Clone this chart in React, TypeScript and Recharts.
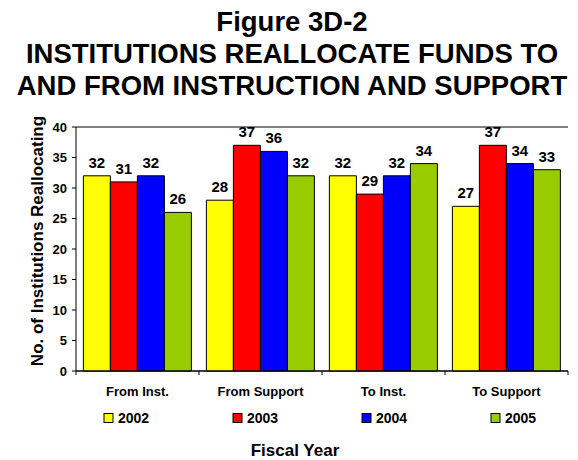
import React from 'react';
import { BarChart, Bar, XAxis, YAxis, CartesianGrid, LabelList } from 'recharts';

const categories = ['From Inst.', 'From Support', 'To Inst.', 'To Support'];
const years = ['2002', '2003', '2004', '2005'];
const values2002 = [32, 28, 32, 27];
const values2003 = [31, 37, 29, 37];
const values2004 = [32, 36, 32, 34];
const values2005 = [26, 32, 34, 33];
const yTicks = [0, 5, 10, 15, 20, 25, 30, 35, 40];

const colors = ['#FFFF00', '#FF0000', '#0000FF', '#99CC00'];
const seriesValues = [values2002, values2003, values2004, values2005];

const data = categories.map((name, i) => {
  const row: Record<string, string | number> = { name };
  years.forEach((y, s) => {
    row[y] = seriesValues[s][i];
  });
  return row;
});

const font = "'Liberation Sans', Arial, sans-serif";

// tick with the marks on the category boundaries, like the excel original
const CategoryTick = (props: any) => {
  const { x, y, payload, index, visibleTicksCount } = props;
  const half = payload && payload.offset ? payload.offset : 61.5;
  const isLast = index === (visibleTicksCount ?? categories.length) - 1;
  return (
    <g>
      <line x1={x - half} x2={x - half} y1={y - 4} y2={y} stroke="#000" />
      {isLast && <line x1={x + half} x2={x + half} y1={y - 4} y2={y} stroke="#000" />}
      <text x={x} y={y + 21} textAnchor="middle" fontSize={13} fontWeight="bold" fontFamily={font} fill="#000">
        {payload.value}
      </text>
    </g>
  );
};

export default function App() {
  return (
    <div style={{ position: 'absolute', left: 0, top: 0, width: 578, height: 460, background: '#fff', fontFamily: font }}>
      <BarChart
        width={578}
        height={460}
        data={data}
        margin={{ top: 127, right: 10, left: 0, bottom: 0 }}
        barGap={0}
        barCategoryGap="6%"
      >
        <CartesianGrid vertical={false} stroke="#000" strokeOpacity={1} />
        <XAxis
          dataKey="name"
          height={89}
          axisLine={{ stroke: '#000' }}
          tickLine={false}
          tickSize={4}
          tickMargin={0}
          tick={<CategoryTick />}
          interval={0}
        />
        <YAxis
          yAxisId="left"
          width={76}
          domain={[0, 40]}
          ticks={yTicks}
          interval={0}
          axisLine={{ stroke: '#000' }}
          tickLine={{ stroke: '#000' }}
          tickSize={4}
          tickMargin={5}
          tick={{ fontSize: 13, fontWeight: 'bold', fill: '#000', fontFamily: font }}
        />
        <YAxis
          yAxisId="right"
          orientation="right"
          width={0}
          domain={[0, 40]}
          tick={false}
          tickLine={false}
          axisLine={{ stroke: '#808080' }}
        />
        {years.map((y, s) => (
          <Bar key={y} yAxisId="left" dataKey={y} fill={colors[s]} stroke="#000" strokeWidth={1} isAnimationActive={false}>
            <LabelList
              dataKey={y}
              position="top"
              offset={8}
              fill="#000"
              fontSize={15}
              fontWeight="bold"
              fontFamily={font}
            />
          </Bar>
        ))}
      </BarChart>
      <svg width={578} height={460} style={{ position: 'absolute', left: 0, top: 0, pointerEvents: 'none' }}>
        <g fontFamily={font} fontWeight="bold" fill="#000" textAnchor="middle">
          <text x={292} y={31} fontSize={27.5}>Figure 3D-2</text>
          <text x={292} y={63} fontSize={27.5}>INSTITUTIONS REALLOCATE FUNDS TO</text>
          <text x={292} y={95} fontSize={27.5}>AND FROM INSTRUCTION AND SUPPORT</text>
          <text x={43} y={241} fontSize={17} transform="rotate(-90 43 241)">No. of Institutions Reallocating</text>
          <text x={295} y={456} fontSize={17}>Fiscal Year</text>
        </g>
        {years.map((y, s) => (
          <g key={y}>
            <rect x={104 + s * 129} y={413.5} width={9} height={9} fill={colors[s]} stroke="#000" />
            <text x={118 + s * 129} y={423} fontSize={14} fontWeight="bold" fontFamily={font} fill="#000">
              {y}
            </text>
          </g>
        ))}
      </svg>
    </div>
  );
}
